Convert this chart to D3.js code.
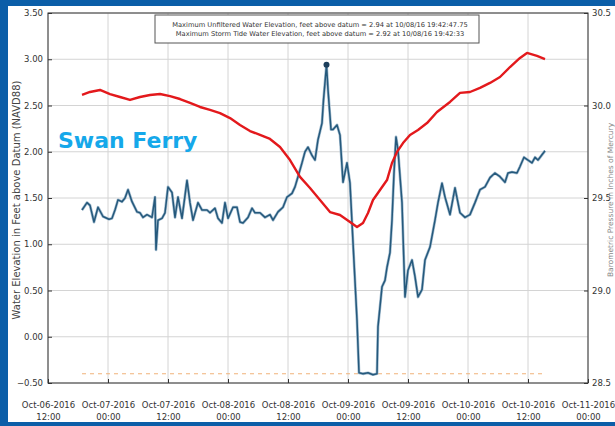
<!DOCTYPE html>
<html>
<head>
<meta charset="utf-8">
<script src="https://cdn.jsdelivr.net/npm/d3@7"></script>
<style>
  body { margin: 0; background: #0b5ea8; }
  svg { display: block; }
  text { font-family: "DejaVu Sans", sans-serif; }
</style>
</head>
<body>
<div id="chart"></div>
<script>
const width = 615
const height = 426

// hours after Oct-06-2016 12:00
const baseTime = new Date(2016, 9, 6, 12, 0)

const elevHours = [6.8,7.8,8.4,9.2,10,11,12.2,12.8,13.4,14,14.8,15.4,16,16.8,17.8,18.4,19,19.8,20.8,21.4,21.6,22,22.8,23.4,24,24.8,25.4,26,26.8,27.8,28.4,29,30,30.8,31.8,32.4,33.4,34,34.8,35.4,36,37,37.8,38.4,39,40,40.8,41.4,42.4,43.4,44.4,45,46,47,47.8,48.8,49.4,50,50.8,51.4,52,52.8,53.4,54,54.8,55.1,55.7,56,56.6,57,57.8,58.4,59,59.8,60.4,61,61.8,62.2,63,64,65,65.8,66,66.8,67.4,67.8,68.4,68.8,69.2,69.6,70,70.8,71.4,72,72.8,73.4,74,74.8,75.4,76.4,77.4,78,78.8,79.4,80.4,81.4,82.4,83.4,84.4,85.4,86.4,87.4,88.4,89.4,90.4,91.4,92,92.8,93.8,94.4,95.2,96,96.8,97.4,98,99.4]
const elevFeet = [1.37,1.45,1.42,1.24,1.40,1.30,1.27,1.28,1.37,1.48,1.46,1.50,1.59,1.46,1.35,1.34,1.29,1.32,1.29,1.51,0.94,1.26,1.28,1.34,1.62,1.56,1.29,1.51,1.28,1.69,1.45,1.26,1.45,1.37,1.37,1.34,1.39,1.28,1.23,1.45,1.28,1.40,1.40,1.24,1.23,1.29,1.39,1.34,1.34,1.29,1.32,1.26,1.35,1.40,1.51,1.55,1.62,1.73,1.88,2.00,2.05,1.96,1.91,2.13,2.31,2.56,2.94,2.67,2.24,2.24,2.29,2.18,1.67,1.88,1.66,1.02,0.18,-0.39,-0.40,-0.39,-0.41,-0.40,0.11,0.54,0.61,0.75,0.91,1.26,1.77,2.16,2.02,1.45,0.43,0.72,0.83,0.65,0.43,0.51,0.83,0.97,1.26,1.45,1.66,1.51,1.32,1.61,1.34,1.29,1.32,1.45,1.59,1.62,1.72,1.77,1.73,1.67,1.77,1.78,1.77,1.84,1.94,1.91,1.88,1.94,1.91,2.01]

const baroHours = [6.8,8.4,10.4,12.4,14.4,16.4,18.4,20.4,22.4,24.4,26.4,28.4,30.4,32.4,34.4,36.4,38.4,40.4,42.4,44.4,46.4,48.4,50.4,52.4,54.4,56.4,58.4,60.4,61.8,63,64,65,66.4,67.8,68.8,69.8,71,72.4,74,75.8,77.8,80.4,82.4,84.4,86.4,88.4,90.4,92.4,94.4,95.8,97.8,99.4]
const baroInHg = [30.057,30.073,30.084,30.062,30.046,30.030,30.046,30.057,30.062,30.051,30.035,30.014,29.992,29.976,29.959,29.932,29.895,29.862,29.841,29.819,29.776,29.705,29.614,29.554,29.489,29.424,29.408,29.370,29.343,29.365,29.419,29.489,29.543,29.597,29.689,29.749,29.797,29.841,29.868,29.905,29.965,30.019,30.068,30.073,30.095,30.122,30.154,30.208,30.257,30.284,30.268,30.251]

const sensorHours = [6.8, 99.4]
const sensorFeet = [-0.40, -0.40]

const leftTicks = [-0.5, 0, 0.5, 1, 1.5, 2, 2.5, 3, 3.5]
const rightTicks = [28.5, 29.0, 29.5, 30.0, 30.5]

const peakFeet = 2.94
const peakHour = 55.7

const infoLines = [
  "Maximum Unfiltered Water Elevation, feet above datum = 2.94 at 10/08/16 19:42:47.75",
  "Maximum Storm Tide Water Elevation, feet above datum = 2.92 at 10/08/16 19:42:33"
]

const toDate = h => new Date(baseTime.getTime() + h * 3600000)

const plot = {left: 48, right: 588, top: 13, bottom: 383}

const x = d3.scaleTime()
  .domain([baseTime, new Date(2016, 9, 11, 0, 0)])
  .range([plot.left, plot.right])

const y = d3.scaleLinear().domain([-0.5, 3.5]).range([plot.bottom, plot.top])
const y2 = d3.scaleLinear().domain([28.5, 30.5]).range([plot.bottom, plot.top])

const svg = d3.select("#chart").append("svg")
  .attr("width", width)
  .attr("height", height)

// frame: blue border and white panel
svg.append("rect").attr("width", width).attr("height", height).attr("fill", "#0b5ea8")
svg.append("rect").attr("x", 8).attr("y", 6).attr("width", width - 8).attr("height", 416).attr("fill", "#fff")

const xTicks = d3.timeHour.every(12).range(baseTime, new Date(2016, 9, 11, 0, 1))

/* grid */
const grid = svg.append("g").attr("stroke", "#d4d4d4").attr("stroke-width", 1)
grid.selectAll(".vg").data(xTicks).join("line")
  .attr("x1", d => x(d)).attr("x2", d => x(d))
  .attr("y1", plot.top).attr("y2", plot.bottom)
grid.selectAll(".hg").data(leftTicks).join("line")
  .attr("x1", plot.left).attr("x2", plot.right)
  .attr("y1", d => y(d)).attr("y2", d => y(d))

/* sensor elevation dashed */
svg.append("path")
  .datum(sensorHours.map((h, i) => [h, sensorFeet[i]]))
  .attr("fill", "none")
  .attr("stroke", "#f0b27a")
  .attr("stroke-width", 1)
  .attr("stroke-dasharray", "4,4")
  .attr("d", d3.line().x(d => x(toDate(d[0]))).y(d => y(d[1])))

/* water elevation */
const elev = elevHours.map((h, i) => [h, elevFeet[i]])
const elevLine = d3.line().x(d => x(toDate(d[0]))).y(d => y(d[1]))
svg.append("path").datum(elev)
  .attr("fill", "none").attr("stroke", "#a3bccf").attr("stroke-width", 2.8)
  .attr("stroke-linejoin", "round").attr("d", elevLine)
svg.append("path").datum(elev)
  .attr("fill", "none").attr("stroke", "#25597c").attr("stroke-width", 1.5)
  .attr("stroke-linejoin", "round").attr("d", elevLine)

svg.append("circle")
  .attr("cx", x(toDate(peakHour))).attr("cy", y(peakFeet))
  .attr("r", 3).attr("fill", "#1d3f5c")

/* barometric pressure */
svg.append("path")
  .datum(baroHours.map((h, i) => [h, baroInHg[i]]))
  .attr("fill", "none").attr("stroke", "#e3191c").attr("stroke-width", 2.4)
  .attr("stroke-linejoin", "round")
  .attr("d", d3.line().x(d => x(toDate(d[0]))).y(d => y2(d[1])))

/* plot frame */
svg.append("rect")
  .attr("x", plot.left).attr("y", plot.top)
  .attr("width", plot.right - plot.left).attr("height", plot.bottom - plot.top)
  .attr("fill", "none").attr("stroke", "#333").attr("stroke-width", 1)

/* left axis */
const yAxis = svg.append("g")
  .attr("transform", `translate(${plot.left},0)`)
  .call(d3.axisLeft(y).tickValues(leftTicks).tickFormat(d3.format(".2f")).tickSizeInner(-4).tickSizeOuter(0).tickPadding(5))
yAxis.select(".domain").remove()
yAxis.selectAll("text").attr("font-size", 8.5).attr("fill", "#333").attr("font-family", "DejaVu Sans")
yAxis.selectAll("line").attr("stroke", "#333")

/* right axis */
const y2Axis = svg.append("g")
  .attr("transform", `translate(${plot.right},0)`)
  .call(d3.axisRight(y2).tickValues(rightTicks).tickFormat(d3.format(".1f")).tickSizeInner(-4).tickSizeOuter(0).tickPadding(4))
y2Axis.select(".domain").remove()
y2Axis.selectAll("text").attr("font-size", 8.5).attr("fill", "#333").attr("font-family", "DejaVu Sans")
y2Axis.selectAll("line").attr("stroke", "#333")

/* bottom axis, two-line labels */
const xAxis = svg.append("g")
  .attr("transform", `translate(0,${plot.bottom})`)
  .call(d3.axisBottom(x).tickValues(xTicks).tickFormat("").tickSizeInner(-4).tickSizeOuter(0))
xAxis.select(".domain").remove()
xAxis.selectAll("line").attr("stroke", "#333")
xAxis.selectAll(".tick").append("text")
  .attr("fill", "#333").attr("font-size", 8.5).attr("text-anchor", "middle")
  .each(function(d) {
    const t = d3.select(this)
    t.append("tspan").attr("x", 0).attr("y", 25).text(d3.timeFormat("%b-%d-%Y")(d))
    t.append("tspan").attr("x", 0).attr("y", 37).text(d3.timeFormat("%H:%M")(d))
  })

/* axis titles */
svg.append("text")
  .attr("transform", `translate(20,${(plot.top + plot.bottom) / 2 + 2}) rotate(-90)`)
  .attr("text-anchor", "middle").attr("font-size", 10).attr("fill", "#444")
  .text("Water Elevation in Feet above Datum (NAVD88)")
svg.append("text")
  .attr("transform", `translate(613,${(plot.top + plot.bottom) / 2 + 2}) rotate(-90)`)
  .attr("text-anchor", "middle").attr("font-size", 7.5).attr("fill", "#888")
  .text("Barometric Pressure in Inches of Mercury")

/* info box */
svg.append("rect")
  .attr("x", 155).attr("y", 15).attr("width", 324).attr("height", 28)
  .attr("fill", "#fff").attr("stroke", "#555").attr("stroke-width", 1)
svg.selectAll(".info").data(infoLines).join("text")
  .attr("x", 320).attr("y", (d, i) => 27 + i * 9)
  .attr("text-anchor", "middle").attr("font-size", 6.7).attr("fill", "#333")
  .text(d => d)

/* station label */
svg.append("text")
  .attr("x", 58).attr("y", 148)
  .attr("font-family", "Liberation Sans, Arial, sans-serif")
  .attr("font-weight", "bold").attr("font-size", 22).attr("fill", "#15a8ea")
  .text("Swan Ferry")
</script>
</body>
</html>
